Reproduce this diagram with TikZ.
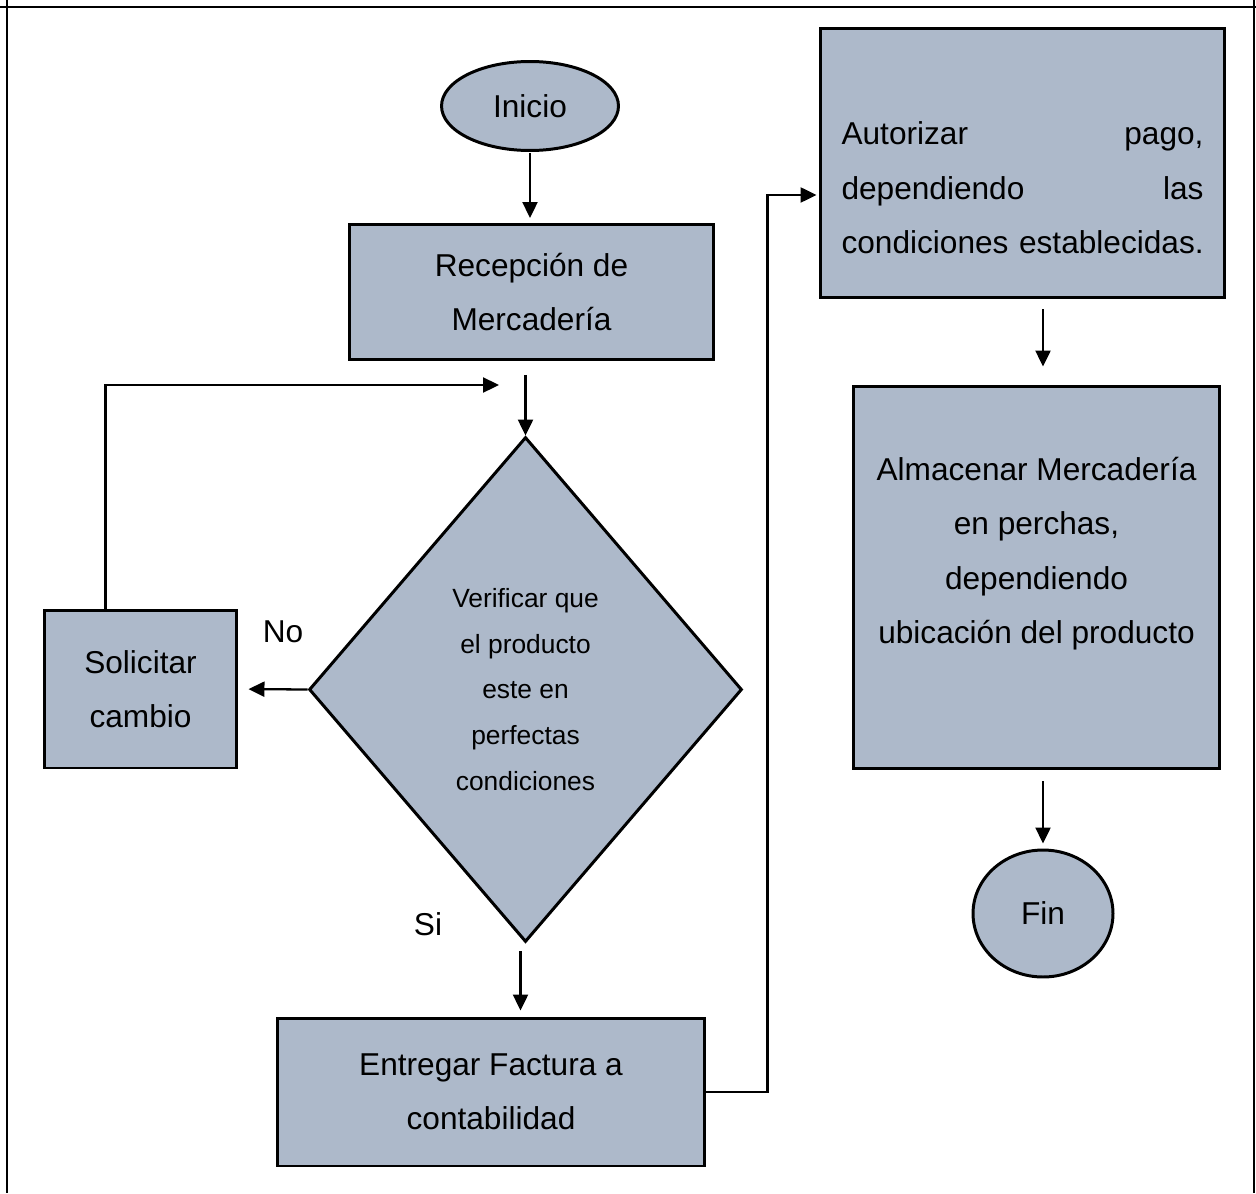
\documentclass[tikz,border=0pt]{standalone}
\usepackage{fontspec}
\setmainfont{Liberation Sans}
\usepackage{tikz}
\usetikzlibrary{arrows.meta}
\usetikzlibrary{shapes.geometric}

\definecolor{cajagris}{RGB}{173,185,202}

\begin{document}
\begin{tikzpicture}[x=0.02cm,y=-0.02cm,
  caja/.style={draw,line width=1.7pt,fill=cajagris,inner sep=0pt,align=center,font=\fontsize{18}{31}\selectfont},
  terminal/.style={caja,ellipse},
  decision/.style={caja,diamond,font=\fontsize{15}{26}\selectfont},
  flecha/.style={line width=1.3pt,-{Triangle[length=0.32cm,width=0.3cm]}},
  etiqueta/.style={font=\fontsize{18}{31}\selectfont}]
\useasboundingbox (0,0) rectangle (1256,1193);

% marco
\draw[line width=1.4pt] (0,7) -- (1256,7);
\draw[line width=1.4pt] (7,0) -- (7,1193);
\draw[line width=1.4pt] (1254,0) -- (1254,1193);

% nodos
\node[terminal,minimum width=3.54cm,minimum height=1.78cm] (inicio) at (530,106) {Inicio};
\node[caja,minimum width=7.3cm,minimum height=2.7cm] (recep) at (531.5,292) {Recepción de\\Mercadería};
\node[decision,minimum width=8.66cm,minimum height=10.1cm] (verif) at (525.5,689.5) {Verificar que\\el producto\\este en\\perfectas\\condiciones};
\node[caja,minimum width=3.86cm,minimum height=3.16cm] (solic) at (140.5,689) {Solicitar\\cambio};
\node[caja,minimum width=8.56cm,minimum height=2.96cm] (entrega) at (491,1092) {Entregar Factura a\\contabilidad};
\node[caja,minimum width=8.1cm,minimum height=5.4cm,text width=7.24cm,align=left] (autor) at (1022.5,163)
  {\mbox{}\\[0.36cm]Autorizar \hfill pago,\\dependiendo \hfill las\\\mbox{condiciones establecidas.}};
\node[caja,minimum width=7.34cm,minimum height=7.66cm] (almac) at (1036.5,577.5)
  {Almacenar Mercadería\\en perchas,\\dependiendo\\ubicación del producto\\\mbox{}};
\node[terminal,minimum width=2.8cm,minimum height=2.54cm] (fin) at (1043,913.5) {Fin};

\node[etiqueta] (no) at (283,632) {No};
\node[etiqueta] (si) at (428,924) {Si};
\coordinate (retorno) at (499,385);

% conectores
\draw[flecha,shorten <=0.02cm,shorten >=0.1cm] (inicio.south) -- (recep.north -| inicio.south);
\draw[flecha,shorten <=0.28cm] (recep.south -| verif.north) -- (verif.north);
\draw[flecha,shorten >=0.2cm] (verif.west) -- (solic.east);
\draw[flecha] ([xshift=-0.7cm]solic.north) |- (retorno);
\draw[flecha,shorten <=0.16cm,shorten >=0.12cm] ([xshift=-0.1cm]verif.south) -- ([xshift=-0.1cm]verif.south |- entrega.north);
\draw[flecha] (entrega.east) -- ([xshift=1.22cm]entrega.east) |- ([yshift=-0.64cm,xshift=-0.04cm]autor.west);
\draw[flecha,shorten <=0.2cm,shorten >=0.36cm] (autor.south -| fin.north) -- (almac.north -| fin.north);
\draw[flecha,shorten <=0.22cm,shorten >=0.1cm] (almac.south -| fin.north) -- (fin.north);

\end{tikzpicture}
\end{document}
